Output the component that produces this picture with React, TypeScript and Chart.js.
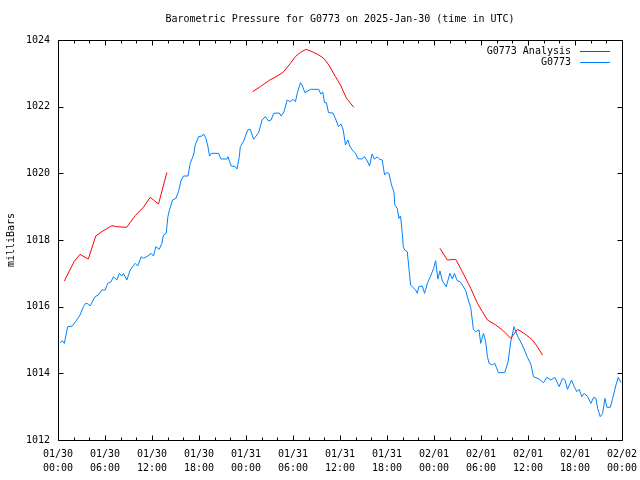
import React, { useEffect, useRef } from "react";
import { Chart, registerables } from "chart.js";

Chart.register(...registerables);

const titleText = "Barometric Pressure for G0773 on 2025-Jan-30 (time in UTC)";
const yTitle = "milliBars";
const tickDates = ["01/30", "01/30", "01/30", "01/30", "01/31", "01/31", "01/31", "01/31", "02/01", "02/01", "02/01", "02/01", "02/02"];
const tickTimes = ["00:00", "06:00", "12:00", "18:00", "00:00", "06:00", "12:00", "18:00", "00:00", "06:00", "12:00", "18:00", "00:00"];
const legendLabels = ["G0773 Analysis", "G0773"];

// hours since 2025-01-30 00:00 UTC
const stationHours = [
  0.26, 0.55, 0.81, 1.24, 1.83, 2.39, 2.81, 3.24, 3.54, 3.87,
  4.09, 4.73, 5.15, 5.59, 6.01, 6.36, 6.78, 7.07, 7.51, 7.84,
  8.15, 8.35, 8.79, 9.21, 9.85, 10.19, 10.61, 10.91, 11.47, 11.89,
  12.19, 12.49, 12.92, 13.26, 13.47, 13.81, 14.03, 14.23, 14.62, 15.05,
  15.38, 15.73, 16.02, 16.59, 16.88, 17.3, 17.52, 17.94, 18.38, 18.58,
  18.89, 19.14, 19.35, 19.57, 20.5, 20.81, 21.57, 21.7, 21.91, 22.12,
  22.63, 22.85, 23.15, 23.27, 23.7, 24.21, 24.55, 24.97, 25.61, 26.05,
  26.47, 26.89, 27.2, 27.53, 28.26, 28.48, 28.84, 29.25, 29.67, 30.01,
  30.31, 30.56, 30.95, 31.16, 31.52, 32.23, 33.29, 33.54, 33.8, 34.02,
  34.27, 34.53, 35.1, 35.49, 35.81, 36.13, 36.41, 36.7, 37.0, 37.25,
  37.56, 37.98, 38.27, 38.84, 39.13, 39.48, 39.77, 40.09, 40.41, 40.75,
  41.09, 41.39, 41.69, 41.94, 42.24, 42.58, 42.88, 43.0, 43.31, 43.52,
  43.73, 43.95, 44.08, 44.25, 44.59, 44.8, 45.01, 45.65, 45.87, 46.07,
  46.51, 46.8, 47.15, 47.57, 47.95, 48.21, 48.5, 48.76, 49.07, 49.55,
  50.04, 50.35, 50.6, 50.96, 51.32, 51.62, 52.05, 52.34, 52.69, 53.03,
  53.32, 53.75, 53.96, 54.31, 54.6, 54.82, 55.03, 55.46, 55.75, 56.23,
  57.03, 57.46, 57.8, 58.22, 58.66, 59.08, 59.5, 59.94, 60.36, 60.7,
  61.42, 61.98, 62.4, 62.92, 63.43, 63.98, 64.41, 64.71, 65.05, 65.56,
  65.9, 66.24, 66.53, 66.88, 67.17, 67.61, 68.03, 68.38, 68.67, 68.89,
  69.22, 69.53, 69.82, 70.08, 70.5, 70.81, 71.23, 71.52, 71.87,
];
const stationPressure = [
  1014.92, 1014.98, 1014.9, 1015.4, 1015.42, 1015.6, 1015.75, 1016.0, 1016.1, 1016.08,
  1016.02, 1016.3, 1016.35, 1016.5, 1016.5, 1016.7, 1016.75, 1016.9, 1016.8, 1017.0,
  1016.92, 1017.0, 1016.8, 1017.1, 1017.3, 1017.22, 1017.5, 1017.45, 1017.52, 1017.6,
  1017.52, 1017.8, 1017.72, 1017.9, 1018.15, 1018.2, 1018.7, 1018.9, 1019.2, 1019.25,
  1019.45, 1019.8, 1019.92, 1019.92, 1020.3, 1020.55, 1020.85, 1021.1, 1021.12, 1021.18,
  1021.05, 1020.8, 1020.52, 1020.6, 1020.6, 1020.43, 1020.43, 1020.5, 1020.35, 1020.22,
  1020.2, 1020.13, 1020.5, 1020.8, 1020.97, 1021.3, 1021.32, 1021.02, 1021.22, 1021.6,
  1021.7, 1021.57, 1021.6, 1021.8, 1021.81, 1021.72, 1021.84, 1022.2, 1022.15, 1022.22,
  1022.15, 1022.42, 1022.72, 1022.65, 1022.42, 1022.52, 1022.52, 1022.38, 1022.44, 1022.12,
  1022.12, 1021.82, 1021.81, 1021.6, 1021.4, 1021.48, 1021.3, 1020.85, 1021.0, 1020.82,
  1020.7, 1020.6, 1020.44, 1020.43, 1020.5, 1020.37, 1020.22, 1020.58, 1020.43, 1020.49,
  1020.42, 1020.4, 1019.95, 1020.02, 1020.0, 1019.65, 1019.45, 1019.05, 1018.95, 1018.65,
  1018.72, 1018.2, 1017.8, 1017.7, 1017.65, 1017.15, 1016.65, 1016.5, 1016.4, 1016.6,
  1016.62, 1016.4, 1016.7, 1016.92, 1017.15, 1017.38, 1016.83, 1017.07, 1016.77, 1016.6,
  1017.0, 1016.83, 1017.0, 1016.78, 1016.75, 1016.65, 1016.48, 1016.23, 1015.97, 1015.32,
  1015.25, 1015.3, 1014.9, 1015.2, 1014.95, 1014.5, 1014.3, 1014.25, 1014.3, 1014.02,
  1014.02, 1014.35, 1014.95, 1015.4, 1015.12, 1014.94, 1014.73, 1014.47, 1014.28, 1013.9,
  1013.83, 1013.72, 1013.88, 1013.8, 1013.88, 1013.6, 1013.85, 1013.8, 1013.52, 1013.8,
  1013.6, 1013.45, 1013.52, 1013.3, 1013.4, 1013.3, 1013.1, 1013.28, 1013.25, 1012.95,
  1012.7, 1012.8, 1013.25, 1012.98, 1012.98, 1013.25, 1013.65, 1013.88, 1013.72,
];

const analysisHours = [
  0.81, 2.05, 2.81, 3.67, 3.87, 4.82, 5.59, 6.87, 7.5, 8.78, 9.85, 10.9, 11.76, 12.3, 12.83, 13.9,
  19,
  24.85, 25.83, 26.9, 27.97, 28.73, 29.67, 30.3, 30.95, 31.68, 32.44, 33.29, 33.93, 34.57, 35.42, 36.06, 36.83, 37.76,
  43,
  48.76, 49.7, 50.77, 51.62, 52.69, 53.54, 54.18, 54.82, 55.88, 56.74, 57.8, 58.66, 59.5, 60.58, 61.2, 61.85,
];
const analysisPressure: (number | null)[] = [
  1016.77, 1017.35, 1017.57, 1017.45, 1017.43, 1018.12, 1018.25, 1018.43, 1018.4, 1018.38, 1018.73, 1018.98, 1019.28, 1019.18, 1019.08, 1020.03,
  null,
  1022.45, 1022.6, 1022.78, 1022.92, 1023.03, 1023.3, 1023.5, 1023.63, 1023.72, 1023.65, 1023.55, 1023.45, 1023.25, 1022.9, 1022.65, 1022.25, 1021.98,
  null,
  1017.75, 1017.4, 1017.42, 1017.05, 1016.55, 1016.1, 1015.85, 1015.6, 1015.45, 1015.3, 1015.05, 1015.32, 1015.2, 1015.0, 1014.8, 1014.55,
];

const RED = "#ff0000";
const BLUE = "#0080ff";
const FONT = "'DejaVu Sans Mono', monospace";

const framePlugin = {
  id: "gnuplotFrame",
  afterDraw(chart: any) {
    const { ctx, chartArea } = chart;
    const { left, right, top, bottom } = chartArea;
    const xs = chart.scales.x;
    const ys = chart.scales.y;
    ctx.save();
    ctx.strokeStyle = "#000";
    ctx.lineWidth = 1;
    ctx.beginPath();
    ctx.rect(left + 0.5, top + 0.5, right - left, bottom - top);
    ctx.stroke();
    // x ticks: major every 6h, minor every 2h
    ctx.beginPath();
    for (let h = 0; h <= 72; h += 2) {
      const len = h % 6 === 0 ? 5 : 3;
      const px = Math.round(xs.getPixelForValue(h)) + 0.5;
      ctx.moveTo(px, bottom + 0.5);
      ctx.lineTo(px, bottom + 0.5 - len);
      ctx.moveTo(px, top + 0.5);
      ctx.lineTo(px, top + 0.5 + len);
    }
    for (let v = 1012; v <= 1024; v += 2) {
      const py = Math.round(ys.getPixelForValue(v)) + 0.5;
      ctx.moveTo(left + 0.5, py);
      ctx.lineTo(left + 0.5 + 5, py);
      ctx.moveTo(right + 0.5, py);
      ctx.lineTo(right + 0.5 - 5, py);
    }
    ctx.stroke();

    ctx.fillStyle = "#000";
    ctx.font = "10px " + FONT;
    ctx.textAlign = "center";
    ctx.textBaseline = "middle";
    ctx.fillText(titleText, (left + right) / 2, 19);

    ctx.save();
    ctx.translate(11, (top + bottom) / 2);
    ctx.rotate(-Math.PI / 2);
    ctx.fillText(yTitle, 0, 0);
    ctx.restore();

    // legend
    const colors = [RED, BLUE];
    ctx.textAlign = "right";
    for (let i = 0; i < legendLabels.length; i++) {
      const y = 51 + i * 11;
      ctx.fillStyle = "#000";
      ctx.fillText(legendLabels[i], 571, y);
      ctx.strokeStyle = colors[i];
      ctx.beginPath();
      ctx.moveTo(580, Math.round(y) + 0.5);
      ctx.lineTo(610, Math.round(y) + 0.5);
      ctx.stroke();
    }
    ctx.restore();
  },
};

export default function App() {
  const ref = useRef<HTMLCanvasElement>(null);
  useEffect(() => {
    document.body.style.margin = "0";
    const canvas = ref.current!;
    const stationData = stationHours.map((h, i) => ({ x: h, y: stationPressure[i] }));
    const analysisData = analysisHours.map((h, i) => ({ x: h, y: analysisPressure[i] }));
    const chart = new Chart(canvas, {
      type: "line",
      data: {
        datasets: [
          {
            label: legendLabels[0],
            data: analysisData as any,
            borderColor: RED,
            borderWidth: 1,
            pointRadius: 0,
            tension: 0,
            spanGaps: false,
            fill: false,
          },
          {
            label: legendLabels[1],
            data: stationData,
            borderColor: BLUE,
            borderWidth: 1,
            pointRadius: 0,
            tension: 0,
            fill: false,
          },
        ],
      },
      options: {
        animation: false,
        responsive: false,
        parsing: false as any,
        layout: { padding: { top: 40, right: 18, left: 0, bottom: 0 } },
        plugins: {
          legend: { display: false },
          title: { display: false },
          tooltip: { enabled: false },
        },
        scales: {
          x: {
            type: "linear",
            min: 0,
            max: 72,
            grid: { display: false },
            border: { display: false },
            afterFit: (s: any) => {
              s.height = 40;
            },
            ticks: {
              stepSize: 6,
              autoSkip: false,
              maxRotation: 0,
              padding: -1,
              color: "#000",
              font: { family: FONT, size: 10, lineHeight: 1.4 },
              callback: (v: any) => {
                const i = Math.round(Number(v) / 6);
                return [tickDates[i], tickTimes[i]];
              },
            },
          },
          y: {
            type: "linear",
            min: 1012,
            max: 1024,
            grid: { display: false },
            border: { display: false },
            afterFit: (s: any) => {
              s.width = 58;
            },
            ticks: {
              stepSize: 2,
              padding: 0,
              color: "#000",
              font: { family: FONT, size: 10 },
              callback: (v: any) => String(v),
            },
          },
        },
      },
      plugins: [framePlugin],
    });
    return () => chart.destroy();
  }, []);
  return (
    <div style={{ position: "fixed", left: 0, top: 0, width: 640, height: 480, background: "#fff" }}>
      <canvas ref={ref} width={640} height={480} />
    </div>
  );
}
